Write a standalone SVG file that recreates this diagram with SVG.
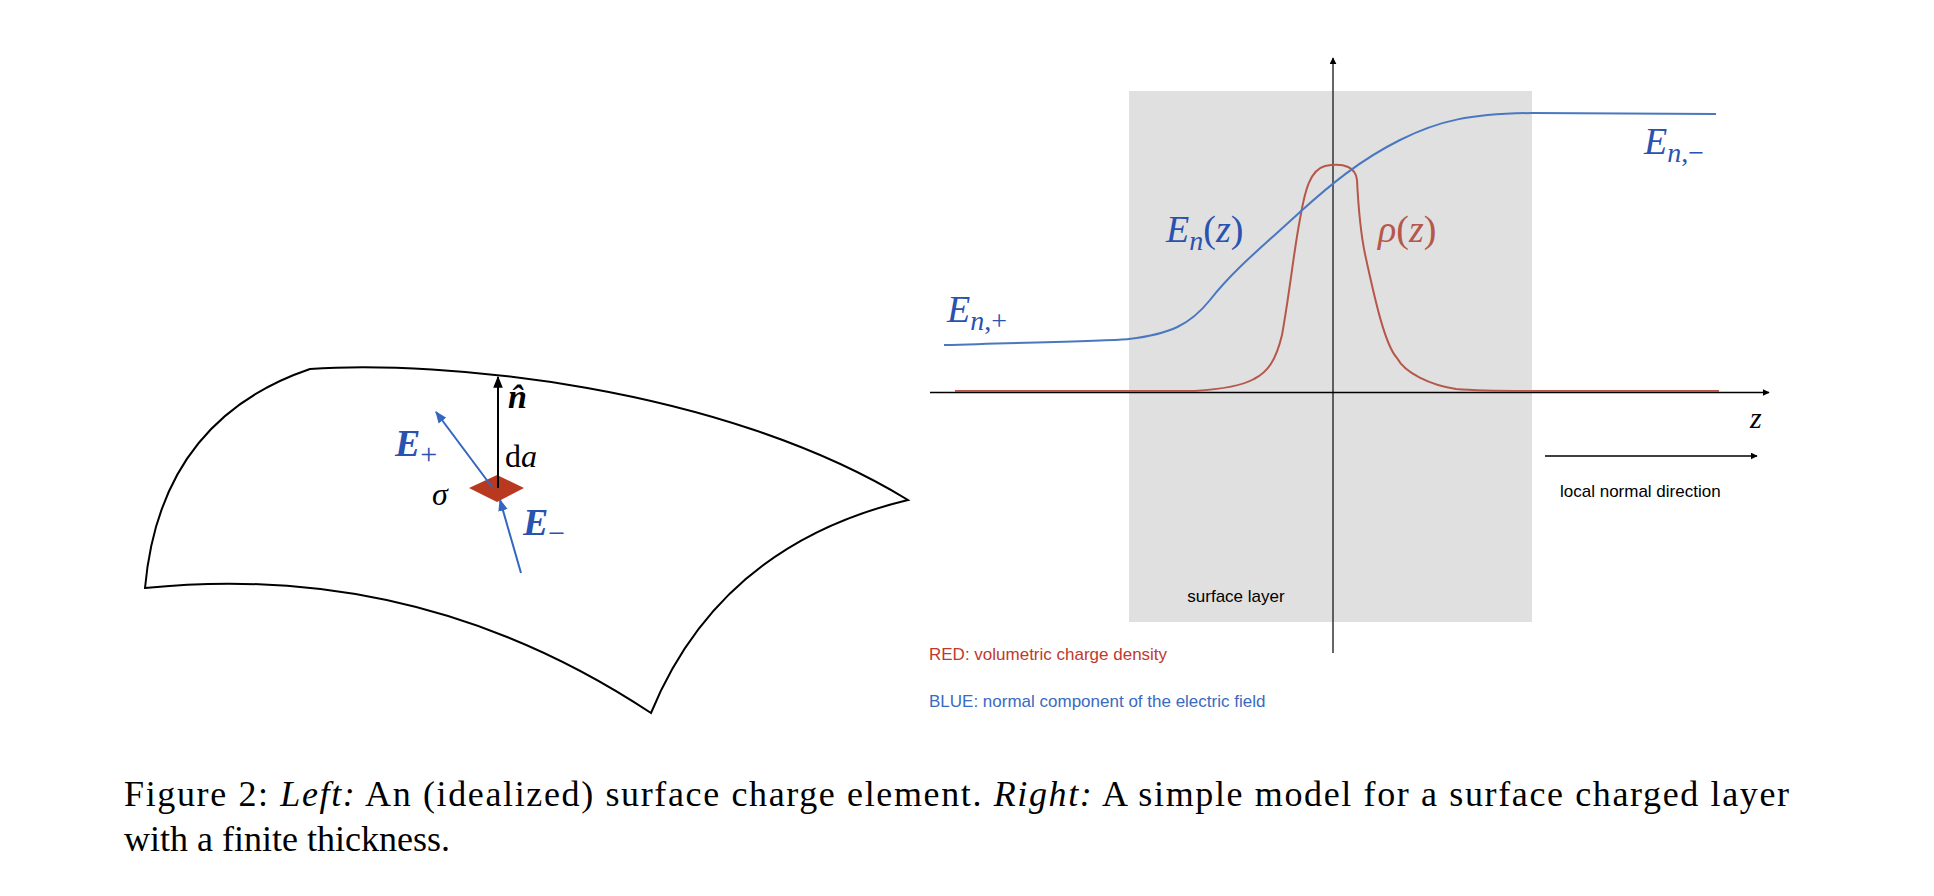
<svg xmlns="http://www.w3.org/2000/svg" width="1934" height="896" viewBox="0 0 1934 896">
<defs>
<marker id="ak" viewBox="0 0 10 10" refX="9" refY="5" markerWidth="7" markerHeight="7" orient="auto" markerUnits="userSpaceOnUse"><path d="M0,0 L10,5 L0,10 z" fill="#000"/></marker>
<marker id="ab" viewBox="0 0 10 10" refX="9" refY="5" markerWidth="12" markerHeight="12" orient="auto" markerUnits="userSpaceOnUse"><path d="M0,1 L10,5 L0,9 z" fill="#3366c0"/></marker>
<marker id="ak2" viewBox="0 0 10 10" refX="9" refY="5" markerWidth="12" markerHeight="12" orient="auto" markerUnits="userSpaceOnUse"><path d="M0,1 L10,5 L0,9 z" fill="#000"/></marker>
</defs>
<style>
.m{font-family:"Liberation Serif","DejaVu Serif",serif;font-style:italic}
.bl{fill:#2a52b0}
.sm{font-family:"Liberation Sans",Arial,sans-serif;font-size:17px}
.cap{font-family:"Liberation Serif","Times New Roman",serif;font-size:36px;fill:#000}
</style>
<rect width="1934" height="896" fill="#fff"/>
<g id="surface">
<path d="M310,369 C440,360 720,385 908,500 Q720,545 651,713 Q420,560 145,588 Q160,420 310,369 Z" fill="none" stroke="#000" stroke-width="2"/>
</g>
<g id="element">
<polygon points="469,488 497,475 524,488 497,502" fill="#b8391f"/>
</g>
<g id="connectors">
<line x1="498" y1="488" x2="498" y2="377" stroke="#000" stroke-width="2" marker-end="url(#ak2)"/>
<line x1="492" y1="487" x2="436" y2="412" stroke="#3366c0" stroke-width="2" marker-end="url(#ab)"/>
<line x1="521" y1="573" x2="500" y2="500" stroke="#3366c0" stroke-width="2" marker-end="url(#ab)"/>
</g>
<g id="left-labels">
<text x="508" y="408" class="m" font-size="34" font-weight="bold">n̂</text>
<text x="505" y="467" font-family="Liberation Serif,serif" font-size="32">d<tspan font-style="italic">a</tspan></text>
<text x="395" y="456" class="m bl" font-size="38" font-weight="bold">E<tspan font-style="normal" font-weight="normal" font-size="30" dy="8">+</tspan></text>
<text x="432" y="505" class="m" font-size="32">σ</text>
<text x="523" y="535" class="m bl" font-size="38" font-weight="bold">E<tspan font-style="normal" font-weight="normal" font-size="30" dy="8">−</tspan></text>
</g>
<g id="layer">
<rect x="1129" y="91" width="403" height="531" fill="#e0e0e0"/>
<text x="1236" y="602" class="sm" text-anchor="middle">surface layer</text>
</g>
<g id="axes">
<line x1="1333" y1="653" x2="1333" y2="58" stroke="#333" stroke-width="1.5" marker-end="url(#ak)"/>
<line x1="930" y1="392.5" x2="1769" y2="392.5" stroke="#000" stroke-width="1.5" marker-end="url(#ak)"/>
<text x="1750" y="428" class="m" font-size="30">z</text>
<line x1="1545" y1="456" x2="1757" y2="456" stroke="#000" stroke-width="1.5" marker-end="url(#ak)"/>
<text x="1560" y="497" class="sm">local normal direction</text>
</g>
<g id="curves">
<path d="M955,391 L1195,391 C1225,389 1245,384 1254,379 C1268,372 1276,360 1282,335 C1290,290 1294,250 1300,219 C1305,190 1310,170 1325,166 C1345,162 1356,168 1357,180 C1358,200 1360,230 1365,254 C1375,300 1385,345 1397,358 C1405,373 1430,385 1456,389 C1480,391 1500,391 1532,391 L1719,391" fill="none" stroke="#b5574b" stroke-width="2"/>
<path d="M944,345 C1040,342 1110,341 1129,339 C1170,334 1190,325 1210,300 C1235,268 1270,240 1300,212 C1330,185 1360,160 1400,140 C1440,120 1470,114 1532,113 L1716,114" fill="none" stroke="#4a78c0" stroke-width="2"/>
</g>
<g id="right-labels">
<text x="1644" y="154" class="m bl" font-size="38">E<tspan font-size="28" dy="8">n</tspan><tspan font-size="28" font-style="normal">,−</tspan></text>
<text x="1166" y="242" class="m bl" font-size="38">E<tspan font-size="28" dy="8">n</tspan><tspan dy="-8" font-style="normal">(</tspan>z<tspan font-style="normal">)</tspan></text>
<text x="1378" y="242" class="m" font-size="38" fill="#b5574b">ρ<tspan font-style="normal">(</tspan>z<tspan font-style="normal">)</tspan></text>
<text x="947" y="322" class="m bl" font-size="38">E<tspan font-size="28" dy="8">n</tspan><tspan font-size="28" font-style="normal">,+</tspan></text>
<text x="929" y="660" class="sm" fill="#c0392b">RED: volumetric charge density</text>
<text x="929" y="707" class="sm" fill="#3a6ac0">BLUE: normal component of the electric field</text>
</g>
<g id="caption">
<text x="124" y="806" class="cap" textLength="1665" lengthAdjust="spacing">Figure 2:  <tspan font-style="italic">Left:</tspan>  An (idealized) surface charge element.  <tspan font-style="italic">Right:</tspan>  A simple model for a surface charged layer</text>
<text x="124" y="851" class="cap">with a finite thickness.</text>
</g>
</svg>
